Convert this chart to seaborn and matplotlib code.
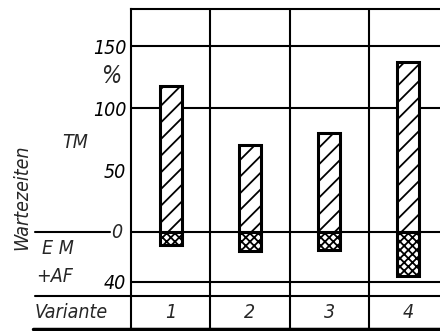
import matplotlib
matplotlib.use("Agg")
import matplotlib.pyplot as plt
import seaborn as sns
import pandas as pd

# values
variante = ["1", "2", "3", "4"]
tm = [118, 70, 80, 137]          # TM waiting time, %
em_af = [10, 15, 14, 35]         # EM + AF waiting time, % (drawn downwards)
ytick_vals = [150, 100, 50, -40]
ytick_labels = ["150", "100", "50", "40"]
grid_vals = [150, 100, 0, -40]

sns.set_theme(style="white")
plt.rcParams["font.family"] = ["DejaVu Sans"]
plt.rcParams["font.stretch"] = "condensed"
plt.rcParams["font.style"] = "italic"
plt.rcParams["hatch.linewidth"] = 1.3
plt.rcParams["hatch.color"] = "black"

df = pd.DataFrame({"Variante": variante, "TM": tm, "EMAF": [-v for v in em_af]})

fig = plt.figure(figsize=(4.40, 3.31), dpi=100)
fig.patch.set_facecolor("white")
ax = fig.add_axes([131 / 440, 2 / 331, 317 / 440, 320 / 331])
ax.set_facecolor("white")

# TM bars upwards, EM + AF bars downwards
sns.barplot(data=df, x="Variante", y="TM", ax=ax, width=0.28, color="white",
            edgecolor="black", linewidth=2.2, hatch="//", zorder=3)
sns.barplot(data=df, x="Variante", y="EMAF", ax=ax, width=0.28, color="white",
            edgecolor="black", linewidth=2.2, hatch="xxxx", zorder=3)

ax.set_xlim(-0.5, 3.5)
ax.set_ylim(-78, 180)

# grid of the table
for v in grid_vals:
    ax.axhline(v, color="black", lw=1.5, zorder=1)
for i in range(1, 4):
    ax.axvline(i - 0.5, color="black", lw=1.5, zorder=1)
ax.axhline(0, xmin=-0.303, xmax=-0.066, color="black", lw=1.5, clip_on=False)
ax.axhline(-51, xmin=-0.303, xmax=1, color="black", lw=1.5, clip_on=False)
ax.axhline(-78, xmin=-0.31, xmax=1, color="black", lw=2.5, clip_on=False)

for side in ["left", "top", "bottom"]:
    ax.spines[side].set_color("black")
    ax.spines[side].set_linewidth(1.5)
ax.spines["right"].set_visible(False)

ax.set_yticks(ytick_vals)
ax.set_yticklabels(ytick_labels)
ax.tick_params(axis="y", length=0, pad=3.5, labelsize=14, colors="black")
ax.set_xticks([])
ax.set_xlabel("")
ax.set_ylabel("")

# labels left of the table
yax = ax.get_yaxis_transform()
ax.text(-0.028, 0, "0", transform=yax, ha="right", va="center", fontsize=14)
ax.text(-0.062, 126, "%", transform=yax, ha="center", va="center", fontsize=17)
ax.text(-0.177, 72, "TM", transform=yax, ha="center", va="center", fontsize=14)
ax.text(-0.345, 28, "Wartezeiten", transform=yax, ha="center", va="center",
        rotation=90, fontsize=14)
ax.text(-0.281, -13.5, "E M", transform=yax, ha="left", va="center", fontsize=14)
ax.text(-0.30, -36, "+AF", transform=yax, ha="left", va="center", fontsize=14)
ax.text(-0.303, -64.5, "Variante", transform=yax, ha="left", va="center", fontsize=14)
for i, lab in enumerate(variante):
    ax.text(i, -64.5, lab, ha="center", va="center", fontsize=14)

fig.savefig("out.png", dpi=100, facecolor="white")
